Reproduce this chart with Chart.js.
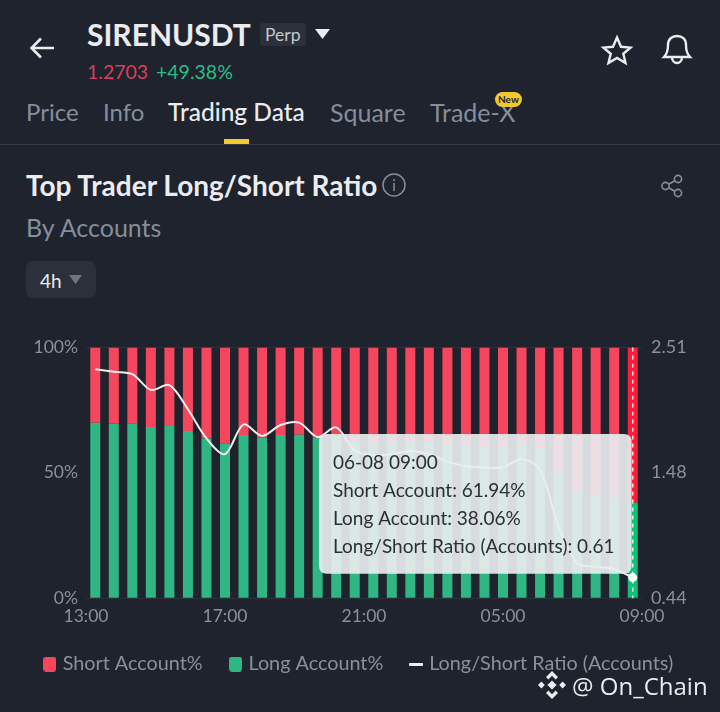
<!DOCTYPE html>
<html><head><meta charset="utf-8">
<style>
html,body{margin:0;padding:0;background:#1e232d;width:720px;height:712px;overflow:hidden;font-family:Lato,sans-serif}
.t{position:absolute;white-space:nowrap;line-height:1}
canvas{position:absolute;left:0;top:320px}
svg{position:absolute;overflow:visible}
</style>
<script src="https://cdn.jsdelivr.net/npm/chart.js@4"></script>
</head><body>
<svg style="left:30px;top:37px" width="26" height="24" fill="none" stroke="#eaecef" stroke-width="2.6"><path d="M1 11H24M11 1.5L1.5 11L11 20.5"/></svg>
<div class="t" style="left:87px;top:19px;font-size:30px;font-weight:700;color:#eaecef">SIRENUSDT</div>
<div class="t" style="left:260px;top:23px;width:46px;height:23px;background:#2b303b;border-radius:3px"></div>
<div class="t" style="left:265px;top:26px;font-size:17.5px;color:#c4c8ce">Perp</div>
<svg style="left:315px;top:29px" width="16" height="11"><path d="M0 0H15L7.5 10Z" fill="#eaecef"/></svg>
<div class="t" style="left:87px;top:62px;font-size:19.5px;color:#d6405a">1.2703</div>
<div class="t" style="left:156px;top:62px;font-size:19.5px;color:#2ebd85">+49.38%</div>
<svg style="left:603px;top:36px" width="28" height="28" fill="none" stroke="#eaecef" stroke-width="2.4"><path d="M14 1.5L18 10.8L27.5 11.6L20.3 17.8L22.5 27L14 22L5.5 27L7.7 17.8L.5 11.6L10 10.8Z"/></svg>
<svg style="left:662px;top:34px" width="30" height="30" fill="none" stroke="#eaecef" stroke-width="2.4"><path d="M2 23C5 20 6 17 6 11C6 5 10 2 15 2C20 2 24 5 24 11C24 17 25 20 28 23ZM10 23C10 31 20 31 20 23"/></svg>
<div class="t" style="left:26px;top:100px;font-size:24px;color:#848e9c">Price</div>
<div class="t" style="left:103px;top:100px;font-size:24px;color:#848e9c">Info</div>
<div class="t" style="left:168px;top:100px;font-size:24.5px;font-weight:500;color:#eaecef">Trading Data</div>
<div class="t" style="left:330px;top:100px;font-size:25px;color:#848e9c">Square</div>
<div class="t" style="left:430px;top:100px;font-size:25px;color:#848e9c">Trade-X</div>
<div class="t" style="left:495px;top:92px;width:27px;height:15px;border-radius:8px;background:#f0c92f;color:#1e232d;font-size:10px;font-weight:700;text-align:center;line-height:15px">New</div>
<div class="t" style="left:224px;top:139px;width:25px;height:5px;background:#f0c92f"></div>
<div class="t" style="left:0;top:144px;width:720px;height:1px;background:#343a44"></div>
<div class="t" style="left:26px;top:171px;font-size:28px;font-weight:700;color:#eaecef">Top Trader Long/Short Ratio</div>
<svg style="left:382px;top:173px" width="24" height="24" fill="none" stroke="#848e9c" stroke-width="1.5"><circle cx="12" cy="12" r="11"/><path d="M12 10V18M12 6V8"/></svg>
<div class="t" style="left:26px;top:215px;font-size:25px;color:#848e9c">By Accounts</div>
<div class="t" style="left:26px;top:261px;width:70px;height:37px;border-radius:7px;background:#2b303b"></div>
<div class="t" style="left:40px;top:271px;font-size:19px;color:#eaecef">4h</div>
<svg style="left:69px;top:275px" width="13" height="9"><path d="M0 0H13L6.5 9Z" fill="#6f7682"/></svg>
<svg style="left:661px;top:175px" width="22" height="22" fill="none" stroke="#848e9c" stroke-width="1.6"><circle cx="4.5" cy="11" r="3.6"/><circle cx="17" cy="4" r="3.6"/><circle cx="17" cy="18" r="3.6"/><path d="M7.6 9.2L13.9 5.8M7.6 12.8L13.9 16.2"/></svg>
<canvas id="c" width="720" height="392"></canvas>
<svg style="left:538px;top:671px" width="28" height="28" fill="#eaecef"><path d="M14 0L20 6L17.6 8.4L14 4.8L10.4 8.4L8 6ZM14 28L8 22L10.4 19.6L14 23.2L17.6 19.6L20 22ZM0 14L3.4 10.6L6.8 14L3.4 17.4ZM28 14L24.6 17.4L21.2 14L24.6 10.6ZM14 9.4L18.6 14L14 18.6L9.4 14Z"/></svg>
<div class="t" style="left:572px;top:674px;font-size:24px;color:#eaecef;font-family:'Open Sans'">@ On_Chain</div>
<script>
const categories = ['1','2','3','4','5','6','7','8','9','10','11','12','13','14','15','16','17','18','19','20','21','22','23','24','25','26','27','28','29','30'];
const xTickLabels = ['13:00','17:00','21:00','05:00','09:00'];
const leftTicks = [0,50,100];
const rightTicks = [0.44,1.48,2.51];
const longPct  = [70.0,69.7,69.6,68.3,68.7,66.7,63.7,61.8,65.1,64.1,65.1,65.2,64.1,64.7,62.4,61.8,62.0,62.3,62.0,61.1,60.5,60.3,60.3,61.4,60.0,50.7,42.2,41.2,40.5,38.06];
const shortPct = [30.0,30.3,30.4,31.7,31.3,33.3,36.3,38.2,34.9,35.9,34.9,34.8,35.9,35.3,37.6,38.2,38.0,37.7,38.0,38.9,39.5,39.7,39.7,38.6,40.0,49.3,57.8,58.8,59.5,61.94];
const ratio    = [2.33,2.31,2.29,2.16,2.20,2.00,1.76,1.63,1.875,1.78,1.87,1.89,1.77,1.85,1.66,1.62,1.63,1.655,1.63,1.57,1.53,1.52,1.52,1.59,1.50,1.03,0.73,0.70,0.68,0.61];
const tooltipTitle = '06-08 09:00';
const RED='#f6465d', GREEN='#2fb682', TICK='#8b9199';
const FONT='Lato';

Chart.Tooltip.positioners.panel = function(){ return {x:327, y:114}; };

function marker(w,h,r,color){
  const m=document.createElement('canvas');m.width=w;m.height=h;
  const g=m.getContext('2d');g.fillStyle=color;g.beginPath();g.roundRect(0,0,w,h,r);g.fill();
  return m;
}
const legendMarkers=[marker(13,15,3,RED),marker(13,15,3,GREEN),marker(14,3,1,'#f4eeee')];

const crosshair = {
  id:'crosshair',
  afterDatasetsDraw(chart){
    const a = chart.getActiveElements()[0];
    if(!a) return;
    const {ctx,chartArea:{top,bottom}} = chart;
    ctx.save();
    ctx.strokeStyle='rgba(255,255,255,0.85)';ctx.lineWidth=1.5;ctx.setLineDash([4,4]);
    ctx.beginPath();ctx.moveTo(a.element.x,top);ctx.lineTo(a.element.x,bottom);ctx.stroke();
    ctx.restore();
  }
};

const chart = new Chart(document.getElementById('c'),{
  data:{labels:categories,datasets:[
    {type:'bar',label:'Short Account%',data:shortPct,backgroundColor:RED,yAxisID:'y',xAxisID:'x',order:2,stack:'s',barPercentage:0.54,categoryPercentage:1},
    {type:'bar',label:'Long Account%',data:longPct,backgroundColor:GREEN,yAxisID:'y',xAxisID:'x',order:1,stack:'s',barPercentage:0.54,categoryPercentage:1},
    {type:'line',label:'Long/Short Ratio (Accounts)',data:ratio,borderColor:'#f4eeee',backgroundColor:'#f4eeee',borderWidth:2,tension:0.32,pointRadius:0,pointHoverRadius:4.5,pointHoverBackgroundColor:'#fff',pointHoverBorderWidth:0,yAxisID:'y2',xAxisID:'x',order:0}
  ]},
  options:{
    responsive:false,animation:false,devicePixelRatio:1,
    layout:{padding:{top:27.5,bottom:28,left:0,right:0}},
    interaction:{mode:'index',intersect:false},
    events:[],
    scales:{
      x:{type:'category',stacked:true,offset:true,display:false},
      xt:{type:'linear',position:'bottom',min:0,max:4,
        grid:{display:false},border:{display:false},
        afterBuildTicks(s){s.ticks=xTickLabels.map((_,i)=>({value:i}));},
        afterFit(s){s.height=26;},
        ticks:{color:TICK,font:{family:FONT,size:17.5},maxRotation:0,autoSkip:false,padding:0,callback:(v)=>xTickLabels[v]}},
      y:{type:'linear',position:'left',stacked:true,min:0,max:100,
        afterBuildTicks(s){s.ticks=leftTicks.map(v=>({value:v}));},
        afterFit(s){s.width=86;},
        grid:{color:c=>c.tick&&c.tick.value===50?'rgba(0,0,0,0)':'#2b313b',drawTicks:false},border:{display:false},
        ticks:{color:TICK,font:{family:FONT,size:17.5},padding:8,callback:v=>v+'%'}},
      y2:{type:'linear',position:'right',min:0.44,max:2.51,
        afterBuildTicks(s){s.ticks=rightTicks.map(v=>({value:v}));},
        afterFit(s){s.width=78;},
        grid:{display:false},border:{display:false},
        ticks:{color:TICK,font:{family:FONT,size:18},padding:1,callback:v=>v.toFixed(2)}}
    },
    plugins:{
      legend:{position:'bottom',labels:{color:TICK,font:{family:FONT,size:19.8},usePointStyle:true,boxHeight:11,pointStyleWidth:6,padding:30,
        generateLabels(c){return c.data.datasets.map((d,i)=>({text:d.label,fillStyle:d.backgroundColor,strokeStyle:d.backgroundColor,lineWidth:0,pointStyle:legendMarkers[i],fontColor:TICK,datasetIndex:i}));}}},
      tooltip:{position:'panel',xAlign:'left',yAlign:'top',caretSize:0,caretPadding:0,cornerRadius:8,
        backgroundColor:'rgba(233,237,239,0.92)',titleColor:'#2b2f36',bodyColor:'#2b2f36',displayColors:false,
        titleFont:{family:FONT,size:19,weight:'normal'},bodyFont:{family:FONT,size:19},
        padding:{left:14,right:17,top:17.5,bottom:15.5},bodySpacing:5.2,titleMarginBottom:5.2,
        itemSort:(a,b)=>a.datasetIndex-b.datasetIndex,
        callbacks:{title:()=>tooltipTitle,
          label(it){
            if(it.datasetIndex===0)return 'Short Account: '+shortPct[it.dataIndex].toFixed(2)+'%';
            if(it.datasetIndex===1)return 'Long Account: '+longPct[it.dataIndex].toFixed(2)+'%';
            return 'Long/Short Ratio (Accounts): '+ratio[it.dataIndex].toFixed(2);
          }}}
    }
  },
  plugins:[crosshair]
});
const last = categories.length-1;
const act = [0,1,2].map(i=>({datasetIndex:i,index:last}));
chart.setActiveElements(act);
chart.tooltip.setActiveElements(act,{x:0,y:0});
chart.update();
</script>
</body></html>
